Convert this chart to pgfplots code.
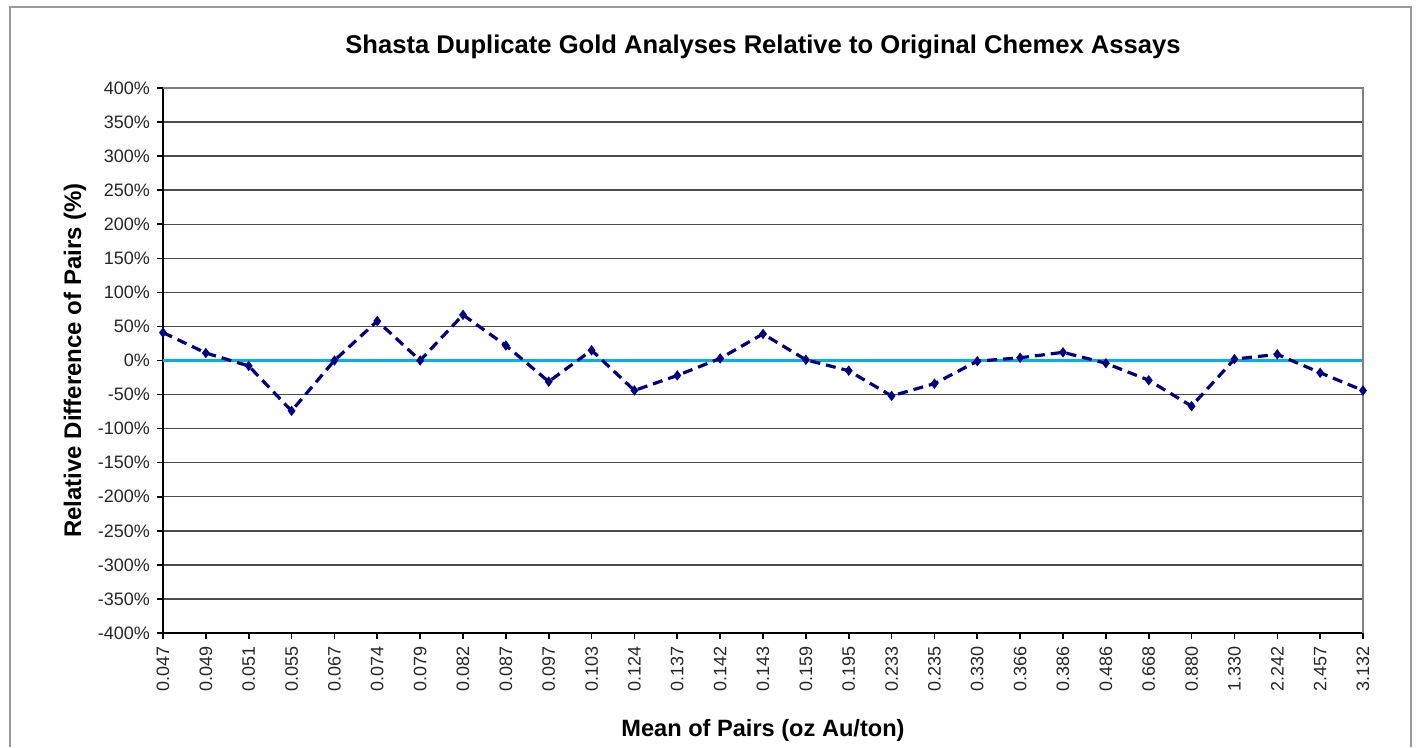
\documentclass[border=0pt]{standalone}
\usepackage{pgfplots}
\pgfplotsset{compat=1.18}
\usepackage{fontspec}
\setmainfont{Liberation Sans}
\definecolor{navyline}{RGB}{0,0,128}
\definecolor{zeroblue}{RGB}{0,176,240}
\begin{document}
\begin{tikzpicture}
\begin{axis}[
  name=ax, at={(0,0)}, anchor=south west,
  width=600pt, height=272.5pt, scale only axis,
  xmin=0, xmax=28, ymin=-400, ymax=400,
  axis lines=left,
  axis line style={-, black, line width=0.9pt},
  xtick={0,...,28},
  xticklabels={0.047,0.049,0.051,0.055,0.067,0.074,0.079,0.082,0.087,0.097,0.103,0.124,0.137,0.142,0.143,0.159,0.195,0.233,0.235,0.330,0.366,0.386,0.486,0.668,0.880,1.330,2.242,2.457,3.132},
  ytick={-400,-350,...,400},
  yticklabel={\pgfmathprintnumber{\tick}\%},
  /pgf/number format/assume math mode=true,
  tick align=outside, major tick length=3pt,
  tick style={black, line width=0.8pt},
  ymajorgrids, major grid style={black!70, line width=0.7pt},
  tick label style={font=\fontsize{9}{10}\selectfont, color=black!85},
  xticklabel style={rotate=90, anchor=east},
  title={Shasta Duplicate Gold Analyses Relative to Original Chemex Assays},
  every axis title/.style={at={(axis description cs:0.5,1.075)}, anchor=center, font=\fontsize{12.8}{14}\selectfont\bfseries},
  xlabel={Mean of Pairs (oz Au/ton)},
  every axis x label/.style={at={(axis description cs:0.5,-0.178)}, anchor=center, font=\fontsize{11.8}{13}\selectfont\bfseries},
  ylabel={Relative Difference of Pairs (\%)},
  every axis y label/.style={at={(axis description cs:-0.0733,0.5)}, rotate=90, anchor=center, font=\fontsize{12}{13}\selectfont\bfseries},
  clip=false,
]
\addplot[color=zeroblue, line width=1.5pt] coordinates {(0,0) (28,0)};
\addplot[color=navyline, line width=1.6pt, dash pattern=on 5pt off 3pt,
  mark=diamond*, mark size=1.3pt, mark options={solid, fill=navyline}] coordinates {
(0,41) (1,11) (2,-8) (3,-74) (4,0) (5,58) (6,0) (7,67) (8,22) (9,-31)
(10,15) (11,-44) (12,-22) (13,3) (14,39) (15,1) (16,-15) (17,-52) (18,-34) (19,-1)
(20,4) (21,12) (22,-4) (23,-29) (24,-67) (25,2) (26,9) (27,-18) (28,-44)
};
\draw[gray, line width=0.8pt] (rel axis cs:0,1) -- (rel axis cs:1,1) -- (rel axis cs:1,0);
\end{axis}
\draw[gray!80, line width=1pt] (-76.5pt,-57pt) -- (-76.5pt,313pt) -- (624pt,313pt) -- (624pt,-57pt);
\path (-81.5pt,-57pt) rectangle (627pt,316.5pt);
\end{tikzpicture}
\end{document}
